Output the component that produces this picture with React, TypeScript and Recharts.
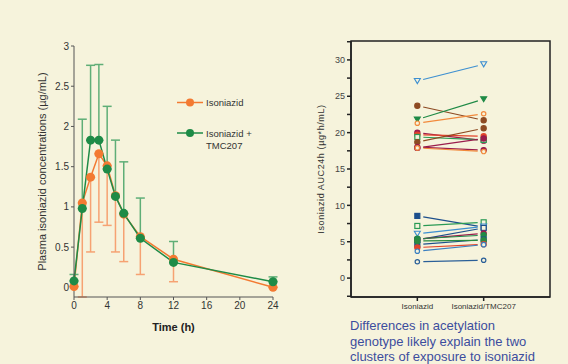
import {
  ErrorBar,
  Line,
  LineChart,
  ReferenceArea,
  Scatter,
  ScatterChart,
  XAxis,
  YAxis,
} from "recharts";

// left panel: mean plasma concentration over time
const hours = [0, 1, 2, 3, 4, 5, 6, 8, 12, 24];
const isoniazidMean = [0.01, 1.05, 1.37, 1.66, 1.51, 1.14, 0.91, 0.63, 0.35, 0.0];
const isoniazidLow = [0.01, -0.12, 0.44, 0.81, 0.77, 0.44, 0.32, 0.16, 0.07, 0.0];
const comboMean = [0.08, 0.98, 1.83, 1.83, 1.47, 1.13, 0.92, 0.61, 0.31, 0.07];
const comboHigh = [0.16, 2.09, 2.76, 2.77, 2.25, 1.83, 1.56, 1.11, 0.57, 0.13];
const hourTicks = [0, 4, 8, 12, 16, 20, 24];
const concTicks = [0, 0.5, 1, 1.5, 2, 2.5, 3];

// right panel: individual AUC24h, one pair per subject
const armLabels = ["Isoniazid", "Isoniazid/TMC207"];
const isoniazidAuc = [
  27.1, 23.7, 21.8, 21.3, 20.0, 19.7, 19.4, 18.7, 17.9, 18.0, 17.9,
  8.55, 7.17, 6.1, 5.25, 5.35, 5.4, 4.6, 5.1, 4.2, 3.7, 2.25,
];
const combinedAuc = [
  29.4, 21.7, 24.6, 22.6, 18.9, 19.5, 19.0, 20.6, 19.2, 17.6, 17.4,
  7.0, 7.67, 7.1, 6.9, 6.15, 5.9, 5.3, 5.2, 4.65, 4.6, 2.45,
];
const aucTicks = [-2.5, 0, 2.5, 5, 7.5, 10, 12.5, 15, 17.5, 20, 22.5, 25, 27.5, 30, 32.5];

const subjectColors = [
  "#3d8fd1", "#8d4a22", "#1f8a46", "#f28a3c", "#9a1d4c", "#e2442a", "#2a9a55", "#8d4a22", "#9a1d4c", "#9a1d4c", "#f28a3c",
  "#1d4f8c", "#2a9a55", "#3d8fd1", "#1d4f8c", "#9a1d4c", "#1f8a46", "#1d4f8c", "#2a8a40", "#e2442a", "#3a7fc0", "#2a5f98",
];
const subjectMarkers = [
  "triOpen", "circle", "tri", "circleOpen", "circle", "circle", "squareOpen", "circle", "circle", "circle", "circleOpen",
  "square", "squareOpen", "triOpen", "squareOpen", "circle", "circle", "square", "circle", "circle", "circleOpen", "circleOpen",
];

const BG = "#f6f3dc";
const ORANGE = "#f37a32";
const GREEN = "#1e8b47";
const FONT = "Arial, 'Liberation Sans', sans-serif";

const concRows = hours.map((h, i) => ({
  h,
  iso: isoniazidMean[i],
  isoErr: [isoniazidMean[i] - isoniazidLow[i], 0],
  combo: comboMean[i],
  comboErr: [0, comboHigh[i] - comboMean[i]],
}));

function marker(kind: string, color: string) {
  return (p: any) => {
    const { cx, cy } = p;
    const open = kind.endsWith("Open");
    const fill = open ? BG : color;
    if (kind.startsWith("tri")) {
      return (
        <path
          d={`M${cx - 3},${cy - 2.5} L${cx + 3},${cy - 2.5} L${cx},${cy + 2.6} Z`}
          fill={fill}
          stroke={color}
          strokeWidth={1.1}
        />
      );
    }
    if (kind.startsWith("square")) {
      return <rect x={cx - 2.5} y={cy - 2.5} width={5} height={5} fill={fill} stroke={color} strokeWidth={1.2} />;
    }
    return <circle cx={cx} cy={cy} r={open ? 2.2 : 2.6} fill={fill} stroke={color} strokeWidth={1.2} />;
  };
}

// connecting line that stops short of both markers
function pairLine(color: string) {
  return (p: any) => {
    const [a, b] = p.points;
    const dx = b.x - a.x;
    const dy = b.y - a.y;
    const len = Math.sqrt(dx * dx + dy * dy) || 1;
    const g = 6;
    return (
      <line
        x1={a.x + (dx / len) * g}
        y1={a.y + (dy / len) * g}
        x2={b.x - (dx / len) * g}
        y2={b.y - (dy / len) * g}
        stroke={color}
        strokeWidth={1.2}
      />
    );
  };
}

function Legend() {
  return (
    <svg width={120} height={70} style={{ position: "absolute", left: 170, top: 90 }}>
      <line x1={7} y1={12.5} x2={33} y2={12.5} stroke={ORANGE} strokeWidth={1.5} />
      <circle cx={20} cy={12.5} r={4} fill={ORANGE} />
      <text x={36} y={16} fontSize={9.5} fill="#333" fontFamily={FONT}>Isoniazid</text>
      <line x1={7} y1={43} x2={33} y2={43} stroke={GREEN} strokeWidth={1.5} />
      <circle cx={20} cy={43} r={4} fill={GREEN} />
      <text x={36} y={46.5} fontSize={9.5} fill="#333" fontFamily={FONT}>Isoniazid +</text>
      <text x={36} y={59} fontSize={9.5} fill="#333" fontFamily={FONT}>TMC207</text>
    </svg>
  );
}

export default function App() {
  const tickStyle = { fill: "#333", fontSize: 10, fontFamily: FONT };
  return (
    <div style={{ position: "fixed", left: 0, top: 0, width: 568, height: 364, background: BG, overflow: "hidden" }}>
      <div style={{ position: "absolute", left: 0, top: 0 }}>
        <LineChart width={300} height={345} data={concRows} margin={{ top: 46, right: 27, left: 28, bottom: 12 }}>
          <XAxis
            dataKey="h"
            type="number"
            domain={[0, 24]}
            ticks={hourTicks}
            tick={tickStyle}
            stroke="#555"
            tickSize={3}
            height={36}
            label={{ value: "Time (h)", position: "insideBottom", offset: 2, style: { fill: "#222", fontSize: 11, fontWeight: 700, fontFamily: FONT } }}
          />
          <YAxis
            type="number"
            domain={[0, 3]}
            ticks={concTicks}
            tick={tickStyle}
            stroke="#555"
            tickSize={3}
            width={46}
            label={{
              value: "Plasma isoniazid concentrations (µg/mL)",
              angle: -90,
              position: "insideLeft",
              offset: 14,
              style: { textAnchor: "middle", fill: "#333", fontSize: 11, fontFamily: FONT },
            }}
          />
          <Line dataKey="iso" stroke={ORANGE} strokeWidth={1.5} dot={{ r: 4.5, fill: ORANGE, stroke: ORANGE, strokeWidth: 0 }} isAnimationActive={false}>
            <ErrorBar dataKey="isoErr" direction="y" width={4.5} stroke="#f6a272" strokeWidth={1.5} />
          </Line>
          <Line dataKey="combo" stroke={GREEN} strokeWidth={1.5} dot={{ r: 4.5, fill: GREEN, stroke: GREEN, strokeWidth: 0 }} isAnimationActive={false}>
            <ErrorBar dataKey="comboErr" direction="y" width={4.5} stroke="#5fae77" strokeWidth={1.5} />
          </Line>
        </LineChart>
        <Legend />
      </div>

      <div style={{ position: "absolute", left: 300, top: 0 }}>
        <ScatterChart width={268} height={320} margin={{ top: 41, right: 18, left: 10, bottom: 0 }}>
          <XAxis
            dataKey="x"
            type="number"
            domain={[0, 3]}
            ticks={[1, 2]}
            tickFormatter={(v: number) => armLabels[v - 1] ?? ""}
            tick={{ fill: "#333", fontSize: 8, fontFamily: FONT }}
            stroke="#222"
            strokeWidth={1.5}
            tickSize={4}
            height={23}
          />
          <YAxis
            dataKey="y"
            type="number"
            domain={[-2.6, 32.6]}
            ticks={aucTicks}
            tickFormatter={(v: number) => (v % 5 === 0 ? String(v) : "")}
            tick={{ fill: "#444", fontSize: 9, fontFamily: FONT }}
            stroke="#222"
            strokeWidth={1.5}
            tickSize={4}
            width={41}
            label={{
              value: "Isoniazid AUC24h (µg*h/mL)",
              angle: -90,
              position: "insideLeft",
              offset: 11,
              style: { textAnchor: "middle", fill: "#333", fontSize: 9, letterSpacing: 0.6, fontFamily: FONT },
            }}
          />
          <ReferenceArea x1={0} x2={3} y1={-2.6} y2={32.6} fill="none" stroke="#222" strokeWidth={1.5} />
          {isoniazidAuc.map((v, i) => (
            <Scatter
              key={i}
              data={[
                { x: 1, y: v },
                { x: 2, y: combinedAuc[i] },
              ]}
              fill={subjectColors[i]}
              line={pairLine(subjectColors[i])}
              shape={marker(subjectMarkers[i], subjectColors[i])}
              isAnimationActive={false}
            />
          ))}
        </ScatterChart>
      </div>

      <div
        style={{
          position: "absolute",
          left: 350,
          top: 318,
          fontFamily: FONT,
          fontSize: 13,
          lineHeight: "15.5px",
          color: "#3c4d9e",
          whiteSpace: "nowrap",
        }}
      >
        Differences in acetylation
        <br />
        genotype likely explain the two
        <br />
        clusters of exposure to isoniazid
      </div>
    </div>
  );
}
